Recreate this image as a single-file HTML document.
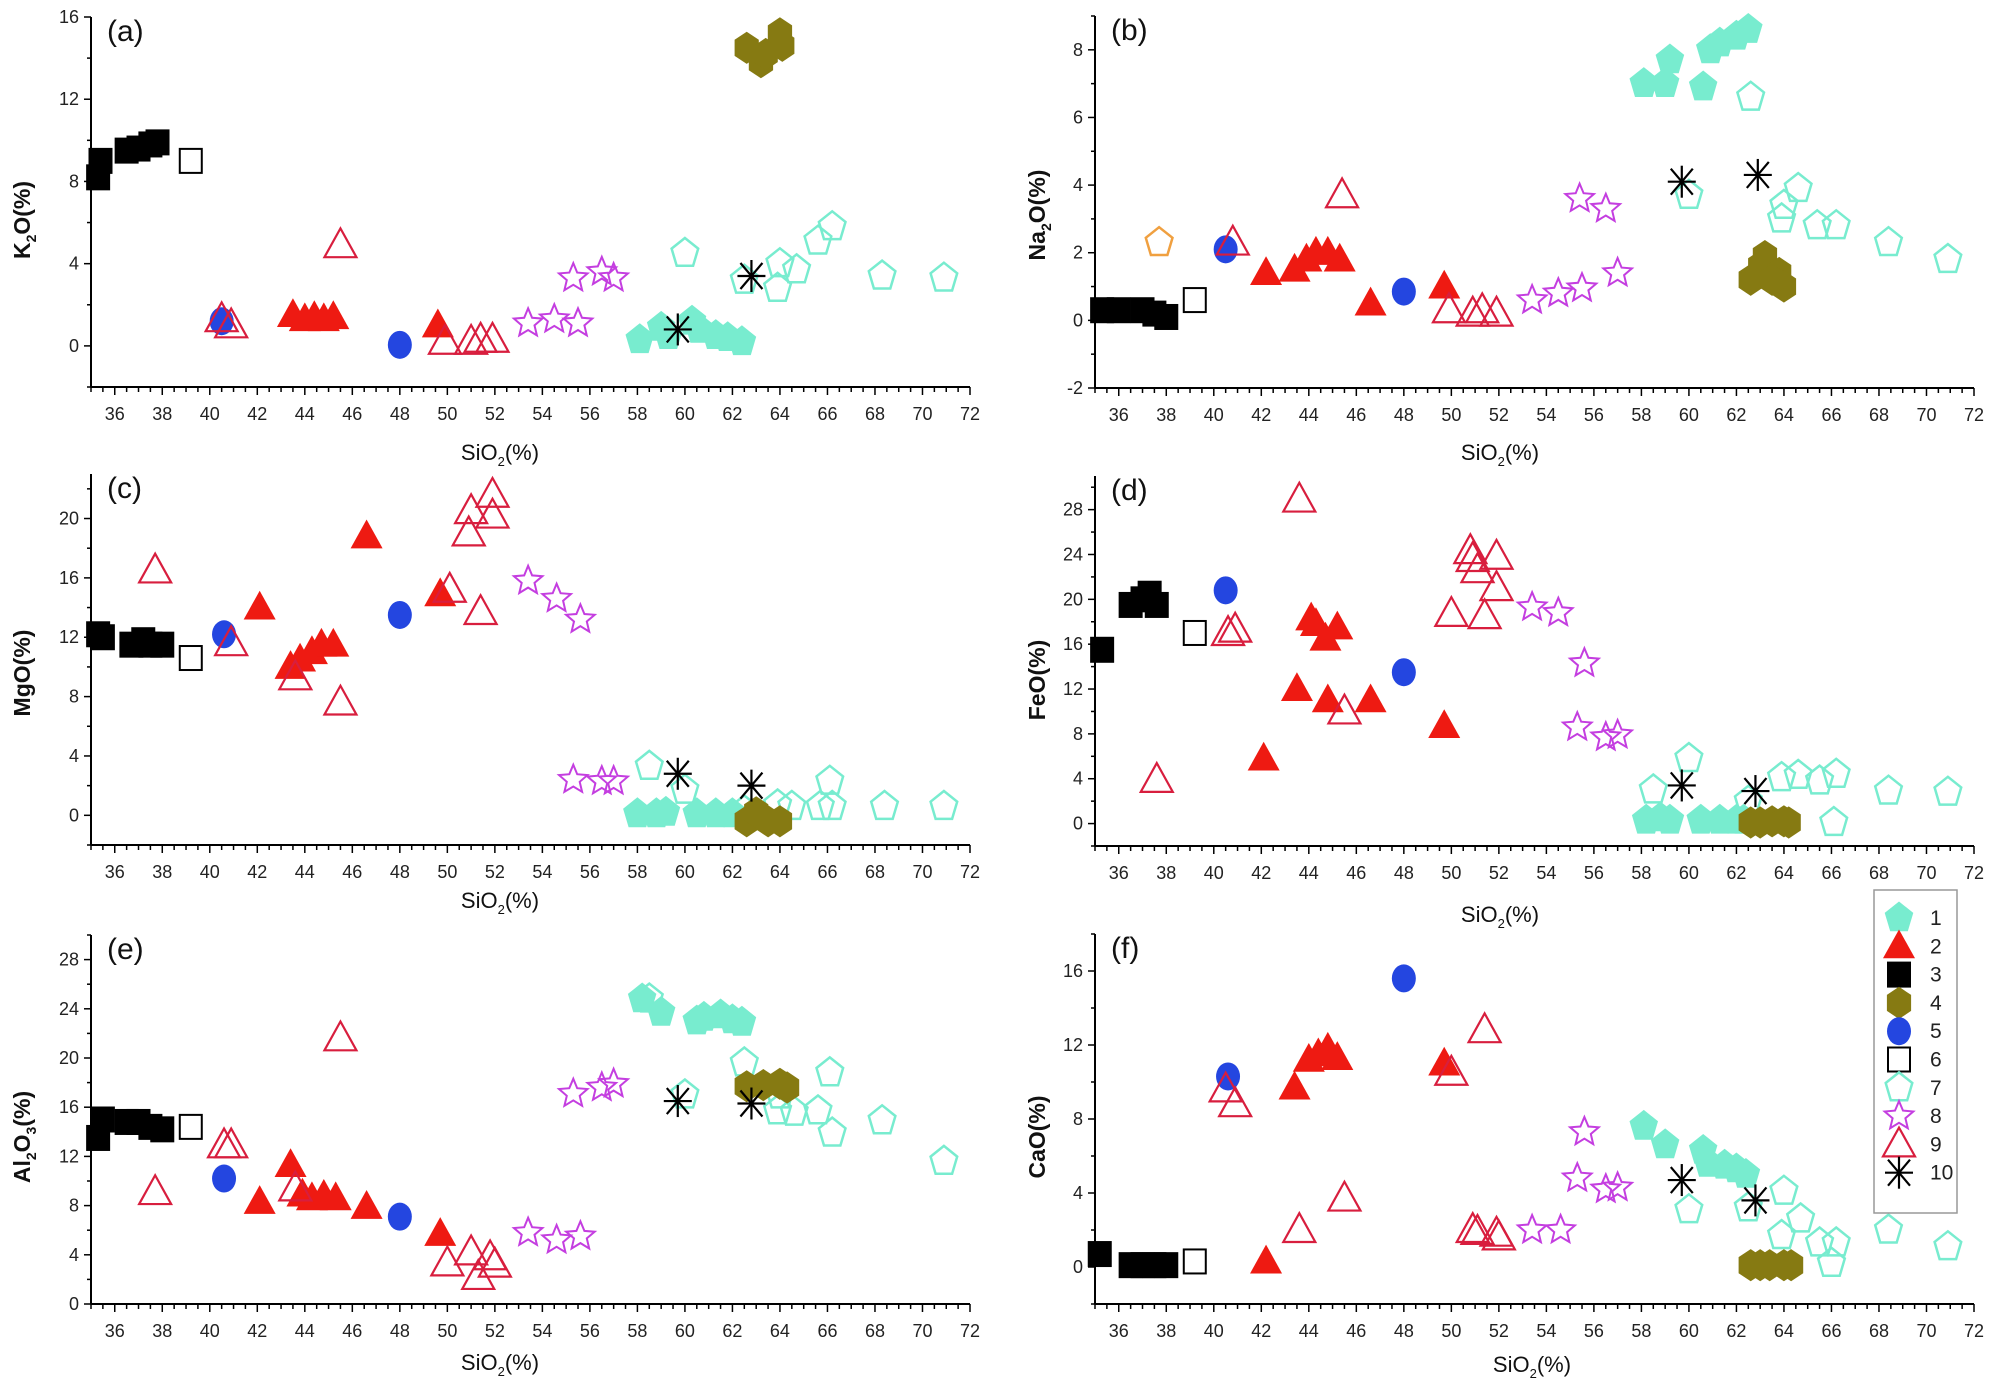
<!DOCTYPE html>
<html><head><meta charset="utf-8"><style>
html,body{margin:0;padding:0;background:#fff;}
svg{display:block;font-family:"Liberation Sans",Arial,sans-serif;}
</style></head><body>
<svg id="chart" width="1989" height="1387" viewBox="0 0 1989 1387" xmlns="http://www.w3.org/2000/svg"></svg>
<script>
// ---------- data (SiO2, oxide) ----------
const a_s1=[[58.1,0.3],[59,0.9],[59.3,0.5],[60.3,1.2],[60.6,0.8],[61.3,0.5],[61.8,0.4],[62.4,0.2]];
const a_s2=[[43.5,1.5],[44,1.3],[44.4,1.4],[44.8,1.3],[45.2,1.4],[49.6,1.0]];
const a_s3=[[35.3,8.2],[35.4,9],[36.5,9.5],[37,9.6],[37.5,9.8],[37.8,9.9]];
const a_s4=[[62.6,14.5],[63.2,13.8],[63.4,14.2],[64,15.2],[64.1,14.6]];
const a_s5=[[40.5,1.2],[48,0.05]];
const a_s6=[[39.2,9.0]];
const a_s7=[[60,4.5],[62.5,3.2],[63.9,2.8],[64,4.0],[64.7,3.7],[65.6,5.1],[66.2,5.8],[68.3,3.4],[70.9,3.3]];
const a_s8=[[53.4,1.1],[54.5,1.3],[55.5,1.1],[55.3,3.3],[56.5,3.6],[57,3.3]];
const a_s9=[[40.5,1.3],[40.9,1.0],[45.5,4.9],[49.9,0.2],[51,0.2],[51.4,0.3],[51.9,0.3]];
const a_s10=[[59.7,0.8],[62.8,3.4]];

const b_s1=[[58.1,7],[59,7.0],[59.2,7.7],[60.6,6.9],[60.9,8.0],[61.3,8.2],[62,8.4],[62.5,8.6]];
const b_s2=[[42.2,1.4],[43.4,1.5],[43.9,1.8],[44.3,2.0],[44.8,2.0],[45.3,1.8],[46.6,0.5],[49.7,1.0]];
const b_s3=[[35.3,0.3],[36,0.3],[37,0.3],[37.5,0.2],[38,0.1]];
const b_s4=[[62.6,1.2],[63,1.6],[63.2,1.9],[63.8,1.4],[64,1.0],[63.5,1.2]];
const b_s5=[[40.5,2.1],[48,0.85]];
const b_s6=[[39.2,0.6]];
const b_s7=[[62.6,6.6],[60,3.7],[63.9,3.0],[64,3.4],[64.6,3.9],[65.4,2.8],[66.2,2.8],[68.4,2.3],[70.9,1.8]];
const b_s7o=[[37.7,2.3]];
const b_s8=[[53.4,0.6],[54.5,0.8],[55.5,0.95],[57,1.4],[55.4,3.6],[56.5,3.3]];
const b_s9=[[40.8,2.3],[45.4,3.7],[49.9,0.3],[50.9,0.2],[51.3,0.3],[51.9,0.2]];
const b_s10=[[59.7,4.1],[62.9,4.3]];

const c_s1=[[58,0.1],[58.8,0.1],[59.2,0.2],[60.5,0.1],[61.3,0.1],[62,0.1]];
const c_s2=[[42.1,14],[43.4,10],[43.8,10.5],[44.3,11],[44.7,11.5],[45.2,11.5],[46.6,18.8],[49.7,14.9]];
const c_s3=[[35.3,12.2],[35.5,12],[36.7,11.5],[37.2,11.8],[37.5,11.5],[38,11.5]];
const c_s4=[[62.6,-0.4],[63,0.2],[63.5,-0.4],[64,-0.4]];
const c_s5=[[40.6,12.2],[48,13.5]];
const c_s6=[[39.2,10.6]];
const c_s7=[[58.5,3.3],[60,1.7],[62.5,0.3],[63.9,0.7],[64.5,0.6],[65.7,0.6],[66.1,2.3],[66.2,0.6],[68.4,0.6],[70.9,0.6]];
const c_s8=[[53.4,15.8],[54.6,14.6],[55.6,13.2],[55.3,2.4],[56.5,2.3],[57,2.3]];
const c_s9=[[37.7,16.5],[40.9,11.6],[43.6,9.3],[45.5,7.6],[50.1,15.2],[51.4,13.7],[50.9,19],[51,20.5],[51.9,20.2],[51.9,21.6]];
const c_s10=[[59.7,2.8],[62.8,2.0]];

const d_s1=[[58.2,0.3],[58.8,0.5],[59.2,0.3],[60.5,0.3],[61.3,0.3],[62,0.3],[62.3,0.3]];
const d_s2=[[42.1,5.8],[43.5,12],[44.1,18.3],[44.3,17.8],[44.7,16.5],[45.2,17.5],[44.8,11],[46.6,11],[49.7,8.7]];
const d_s3=[[35.3,15.5],[36.5,19.5],[37,20],[37.3,20.5],[37.6,19.5]];
const d_s4=[[62.6,0.1],[63,0.1],[63.5,0.2],[64,0.2],[64.2,0.1]];
const d_s5=[[40.5,20.8],[48,13.5]];
const d_s6=[[39.2,17]];
const d_s7=[[58.5,3.0],[60,5.8],[62.5,2.0],[63.9,4.1],[64.6,4.3],[65.5,3.8],[66.2,4.4],[66.1,0.1],[68.4,2.9],[70.9,2.8]];
const d_s8=[[53.4,19.3],[54.5,18.8],[55.6,14.3],[55.3,8.6],[56.5,7.7],[57,7.9]];
const d_s9=[[37.6,3.9],[40.6,17],[40.9,17.3],[43.6,28.9],[45.5,10],[50,18.7],[50.8,24.3],[50.9,23.6],[51.1,22.6],[51.9,23.8],[51.9,21],[51.4,18.5]];
const d_s10=[[59.7,3.4],[62.8,2.9]];

const e_s1=[[58.2,24.8],[59,23.7],[60.5,23.0],[60.8,23.3],[61.5,23.5],[62,23.1],[62.4,22.9]];
const e_s2=[[42.1,8.3],[43.4,11.3],[43.9,8.9],[44.3,8.6],[44.8,8.8],[45.3,8.6],[46.6,7.9],[49.7,5.7]];
const e_s3=[[35.3,13.5],[35.5,15],[36.5,14.8],[37,14.8],[37.5,14.4],[38,14.2]];
const e_s4=[[62.6,17.7],[63.3,17.8],[64,17.9],[64.3,17.6]];
const e_s5=[[40.6,10.2],[48,7.1]];
const e_s6=[[39.2,14.4]];
const e_s7=[[58.5,24.8],[60,17],[62.5,19.6],[63.9,15.7],[64,17],[64.6,15.6],[65.6,15.7],[66.1,18.8],[66.2,13.9],[68.3,14.9],[70.9,11.6]];
const e_s8=[[53.4,5.8],[54.6,5.2],[55.6,5.5],[55.3,17.1],[56.5,17.6],[57,17.9]];
const e_s9=[[37.7,9.1],[40.6,12.9],[40.9,12.9],[43.6,9.4],[45.5,21.6],[50,3.3],[51,4.2],[51.3,2.2],[51.8,3.8],[52,3.2]];
const e_s10=[[59.7,16.5],[62.8,16.3]];

const f_s1=[[58.1,7.6],[59,6.6],[60.6,6.3],[60.8,5.6],[61.5,5.5],[62,5.3],[62.4,5.0]];
const f_s2=[[42.2,0.3],[43.4,9.7],[44,11.2],[44.4,11.5],[44.8,11.8],[45.2,11.3],[49.7,11]];
const f_s3=[[35.2,0.7],[36.5,0.1],[37,0.1],[37.5,0.1],[38,0.1]];
const f_s4=[[62.6,0.1],[63,0.1],[63.4,0.1],[64,0.1],[64.3,0.1]];
const f_s5=[[40.6,10.3],[48,15.6]];
const f_s6=[[39.2,0.3]];
const f_s7=[[60,3.1],[62.5,3.2],[64,4.1],[63.9,1.7],[64.7,2.6],[65.5,1.3],[66,0.2],[66.2,1.3],[68.4,2.0],[70.9,1.1]];
const f_s8=[[53.4,2.0],[54.6,2.0],[55.6,7.3],[55.3,4.8],[56.5,4.2],[57,4.3]];
const f_s9=[[40.5,9.6],[40.9,8.8],[43.6,2.0],[45.5,3.7],[50,10.5],[51.4,12.8],[50.9,2.0],[51.1,1.9],[51.9,1.8],[52,1.6]];
const f_s10=[[59.7,4.7],[62.8,3.6]];

const xTicks=[36,38,40,42,44,46,48,50,52,54,56,58,60,62,64,66,68,70,72];
const legendLabels=["1","2","3","4","5","6","7","8","9","10"];

// ---------- rendering ----------
const NS="http://www.w3.org/2000/svg";
const svg=document.getElementById('chart');
function el(tag,attrs,parent){const e=document.createElementNS(NS,tag);for(const k in attrs)e.setAttribute(k,attrs[k]);(parent||svg).appendChild(e);return e;}

const CY='#78eccf', RED='#ee1a12', OPEN_RED='#d81e3e', MAG='#c43ee0', OLIVE='#867a12', BLUE='#2446e0';

function pent(cx,cy,r){let p=[];for(let i=0;i<5;i++){const a=-Math.PI/2+i*2*Math.PI/5;p.push((cx+r*Math.cos(a)).toFixed(1)+','+(cy+r*1.1*Math.sin(a)).toFixed(1));}return p.join(' ');}
function hex(cx,cy,r){let p=[];for(let i=0;i<6;i++){const a=-Math.PI/2+i*Math.PI/3;p.push((cx+r*Math.cos(a)).toFixed(1)+','+(cy+r*1.15*Math.sin(a)).toFixed(1));}return p.join(' ');}
function star(cx,cy,r){let p=[];for(let i=0;i<10;i++){const a=-Math.PI/2+i*Math.PI/5;const rr=i%2?r*0.45:r;p.push((cx+rr*Math.cos(a)).toFixed(1)+','+(cy+rr*Math.sin(a)).toFixed(1));}return p.join(' ');}
function tri(cx,cy,r){return `${cx},${cy-r*1.05} ${cx-r},${cy+r*0.75} ${cx+r},${cy+r*0.75}`;}

function marker(g,type,cx,cy){
  let m;
  switch(type){
    case 1: m=el('polygon',{points:pent(cx,cy,15),fill:CY},g);break;
    case 2: m=el('polygon',{points:tri(cx,cy,16),fill:RED},g);break;
    case 3: m=el('rect',{x:cx-12,y:cy-13,width:24,height:26,fill:'#000'},g);break;
    case 4: m=el('polygon',{points:hex(cx,cy,14),fill:OLIVE},g);break;
    case 5: m=el('ellipse',{cx:cx,cy:cy,rx:12,ry:14,fill:BLUE},g);break;
    case 6: m=el('rect',{x:cx-11,y:cy-12,width:22,height:24,fill:'none',stroke:'#000','stroke-width':2},g);break;
    case 7: m=el('polygon',{points:pent(cx,cy,14),fill:'none',stroke:CY,'stroke-width':2.5},g);break;
    case 70: m=el('polygon',{points:pent(cx,cy,14),fill:'none',stroke:'#f0a040','stroke-width':2.5},g);break;
    case 8: m=el('polygon',{points:star(cx,cy,15),fill:'none',stroke:MAG,'stroke-width':2},g);break;
    case 9: m=el('polygon',{points:tri(cx,cy,16),fill:'none',stroke:OPEN_RED,'stroke-width':2.2},g);break;
    case 10: m=el('g',{stroke:'#000','stroke-width':2.2},g);
      el('line',{x1:cx-14,y1:cy,x2:cx+14,y2:cy},m);
      el('line',{x1:cx,y1:cy-16,x2:cx,y2:cy+16},m);
      el('line',{x1:cx-11,y1:cy-13,x2:cx+11,y2:cy+13},m);
      el('line',{x1:cx-11,y1:cy+13,x2:cx+11,y2:cy-13},m);break;
  }
  return m;
}

const panels=[
 {id:'a',ax:91,bot:387,top:17,ymin:-2,ymax:16,yt:[0,4,8,12,16],ym:2,yl:['K','2','O(%)'],lx:22,ly:220,tx:500,ty:460,series:[a_s1,a_s2,a_s3,a_s4,a_s5,a_s6,a_s7,a_s8,a_s9,a_s10],extra:null},
 {id:'b',ax:1095,bot:388,top:16,ymin:-2,ymax:9,yt:[-2,0,2,4,6,8],ym:1,yl:['Na','2','O(%)'],lx:1037,ly:215,tx:1500,ty:460,series:[b_s1,b_s2,b_s3,b_s4,b_s5,b_s6,b_s7,b_s8,b_s9,b_s10],extra:b_s7o},
 {id:'c',ax:91,bot:845,top:474,ymin:-2,ymax:23,yt:[0,4,8,12,16,20],ym:2,yl:['MgO(%)'],lx:22,ly:673,tx:500,ty:908,series:[c_s1,c_s2,c_s3,c_s4,c_s5,c_s6,c_s7,c_s8,c_s9,c_s10],extra:null},
 {id:'d',ax:1095,bot:846,top:476,ymin:-2,ymax:31,yt:[0,4,8,12,16,20,24,28],ym:2,yl:['FeO(%)'],lx:1037,ly:680,tx:1500,ty:922,series:[d_s1,d_s2,d_s3,d_s4,d_s5,d_s6,d_s7,d_s8,d_s9,d_s10],extra:null},
 {id:'e',ax:91,bot:1304,top:935,ymin:0,ymax:30,yt:[0,4,8,12,16,20,24,28],ym:2,yl:['Al','2','O','3','(%)'],lx:22,ly:1137,tx:500,ty:1370,series:[e_s1,e_s2,e_s3,e_s4,e_s5,e_s6,e_s7,e_s8,e_s9,e_s10],extra:null},
 {id:'f',ax:1095,bot:1304,top:934,ymin:-2,ymax:18,yt:[0,4,8,12,16],ym:2,yl:['CaO(%)'],lx:1037,ly:1137,tx:1532,ty:1372,series:[f_s1,f_s2,f_s3,f_s4,f_s5,f_s6,f_s7,f_s8,f_s9,f_s10],extra:null}
];
const XMIN=35,XMAX=72,XW=879;

panels.forEach(p=>{
  const g=el('g',{});
  
  
  const X=v=>p.ax+(v-XMIN)/(XMAX-XMIN)*XW;
  const Y=v=>p.bot-(v-p.ymin)/(p.ymax-p.ymin)*(p.bot-p.top);
  const xa=el('line',{x1:p.ax,y1:p.bot,x2:p.ax+XW,y2:p.bot,stroke:'#000','stroke-width':2},g);
  
  
  const ya=el('line',{x1:p.ax,y1:p.bot,x2:p.ax,y2:p.top,stroke:'#000','stroke-width':2},g);
  
  
  for(let v=35;v<=72.01;v+=0.5){
    const major=Math.abs(v%2)<0.01;
    el('line',{x1:X(v),y1:p.bot,x2:X(v),y2:p.bot+(major?8:5),stroke:'#000','stroke-width':1.5},g);
  }
  xTicks.forEach(v=>{
    const t=el('text',{x:X(v),y:p.bot+33,'font-size':18,'text-anchor':'middle',fill:'#222'},g);
    t.textContent=v;
    
    
  });
  for(let v=p.ymin;v<=p.ymax+0.001;v+=p.ym){
    const major=p.yt.includes(v);
    el('line',{x1:p.ax,y1:Y(v),x2:p.ax-(major?7:4),y2:Y(v),stroke:'#000','stroke-width':1.5},g);
  }
  p.yt.forEach(v=>{
    const t=el('text',{x:p.ax-12,y:Y(v)+6,'font-size':18,'text-anchor':'end',fill:'#222'},g);
    t.textContent=v;
    
    
  });
  const pl=el('text',{x:p.ax+16,y:p.top+24,'font-size':30,fill:'#111'},g);
  pl.textContent='('+p.id+')';
  
  
  const xt=el('text',{x:p.tx,y:p.ty,'font-size':22,'text-anchor':'middle',fill:'#111'},g);
  
  
  xt.innerHTML='SiO<tspan font-size="13" dy="6">2</tspan><tspan dy="-6">(%)</tspan>';
  const yt=el('text',{x:p.lx,y:p.ly,'font-size':23,'font-weight':'bold','text-anchor':'middle',fill:'#111',transform:`rotate(-90 ${p.lx} ${p.ly})`,dy:8},g);
  
  
  if(p.yl.length===1) yt.textContent=p.yl[0];
  else if(p.yl.length===3) yt.innerHTML=`${p.yl[0]}<tspan font-size="14" dy="6">${p.yl[1]}</tspan><tspan dy="-6">${p.yl[2]}</tspan>`;
  else yt.innerHTML=`${p.yl[0]}<tspan font-size="14" dy="6">${p.yl[1]}</tspan><tspan dy="-6">${p.yl[2]}</tspan><tspan font-size="14" dy="6">${p.yl[3]}</tspan><tspan dy="-6">${p.yl[4]}</tspan>`;
  const order=[3,6,5,2,9,8,1,7,4,10];
  order.forEach(k=>{
    p.series[k-1].forEach(d=>{
      const m=marker(g,k,X(d[0]),Y(d[1]));
      
      
    });
  });
  if(p.extra){p.extra.forEach(d=>{
    const m=marker(g,70,X(d[0]),Y(d[1]));
    
    
  });}
});

const lg=el('g',{});


el('rect',{x:1874,y:890,width:83,height:323,fill:'#fff',stroke:'#999','stroke-width':1.5},lg);
legendLabels.forEach((lab,i)=>{
  const cy=918+i*28.3;
  const e=el('g',{},lg);
  
  
  marker(e,i+1,1899,cy);
  const t=el('text',{x:1930,y:cy+7,'font-size':21,fill:'#222'},e);
  t.textContent=lab;
});
</script>
</body></html>
